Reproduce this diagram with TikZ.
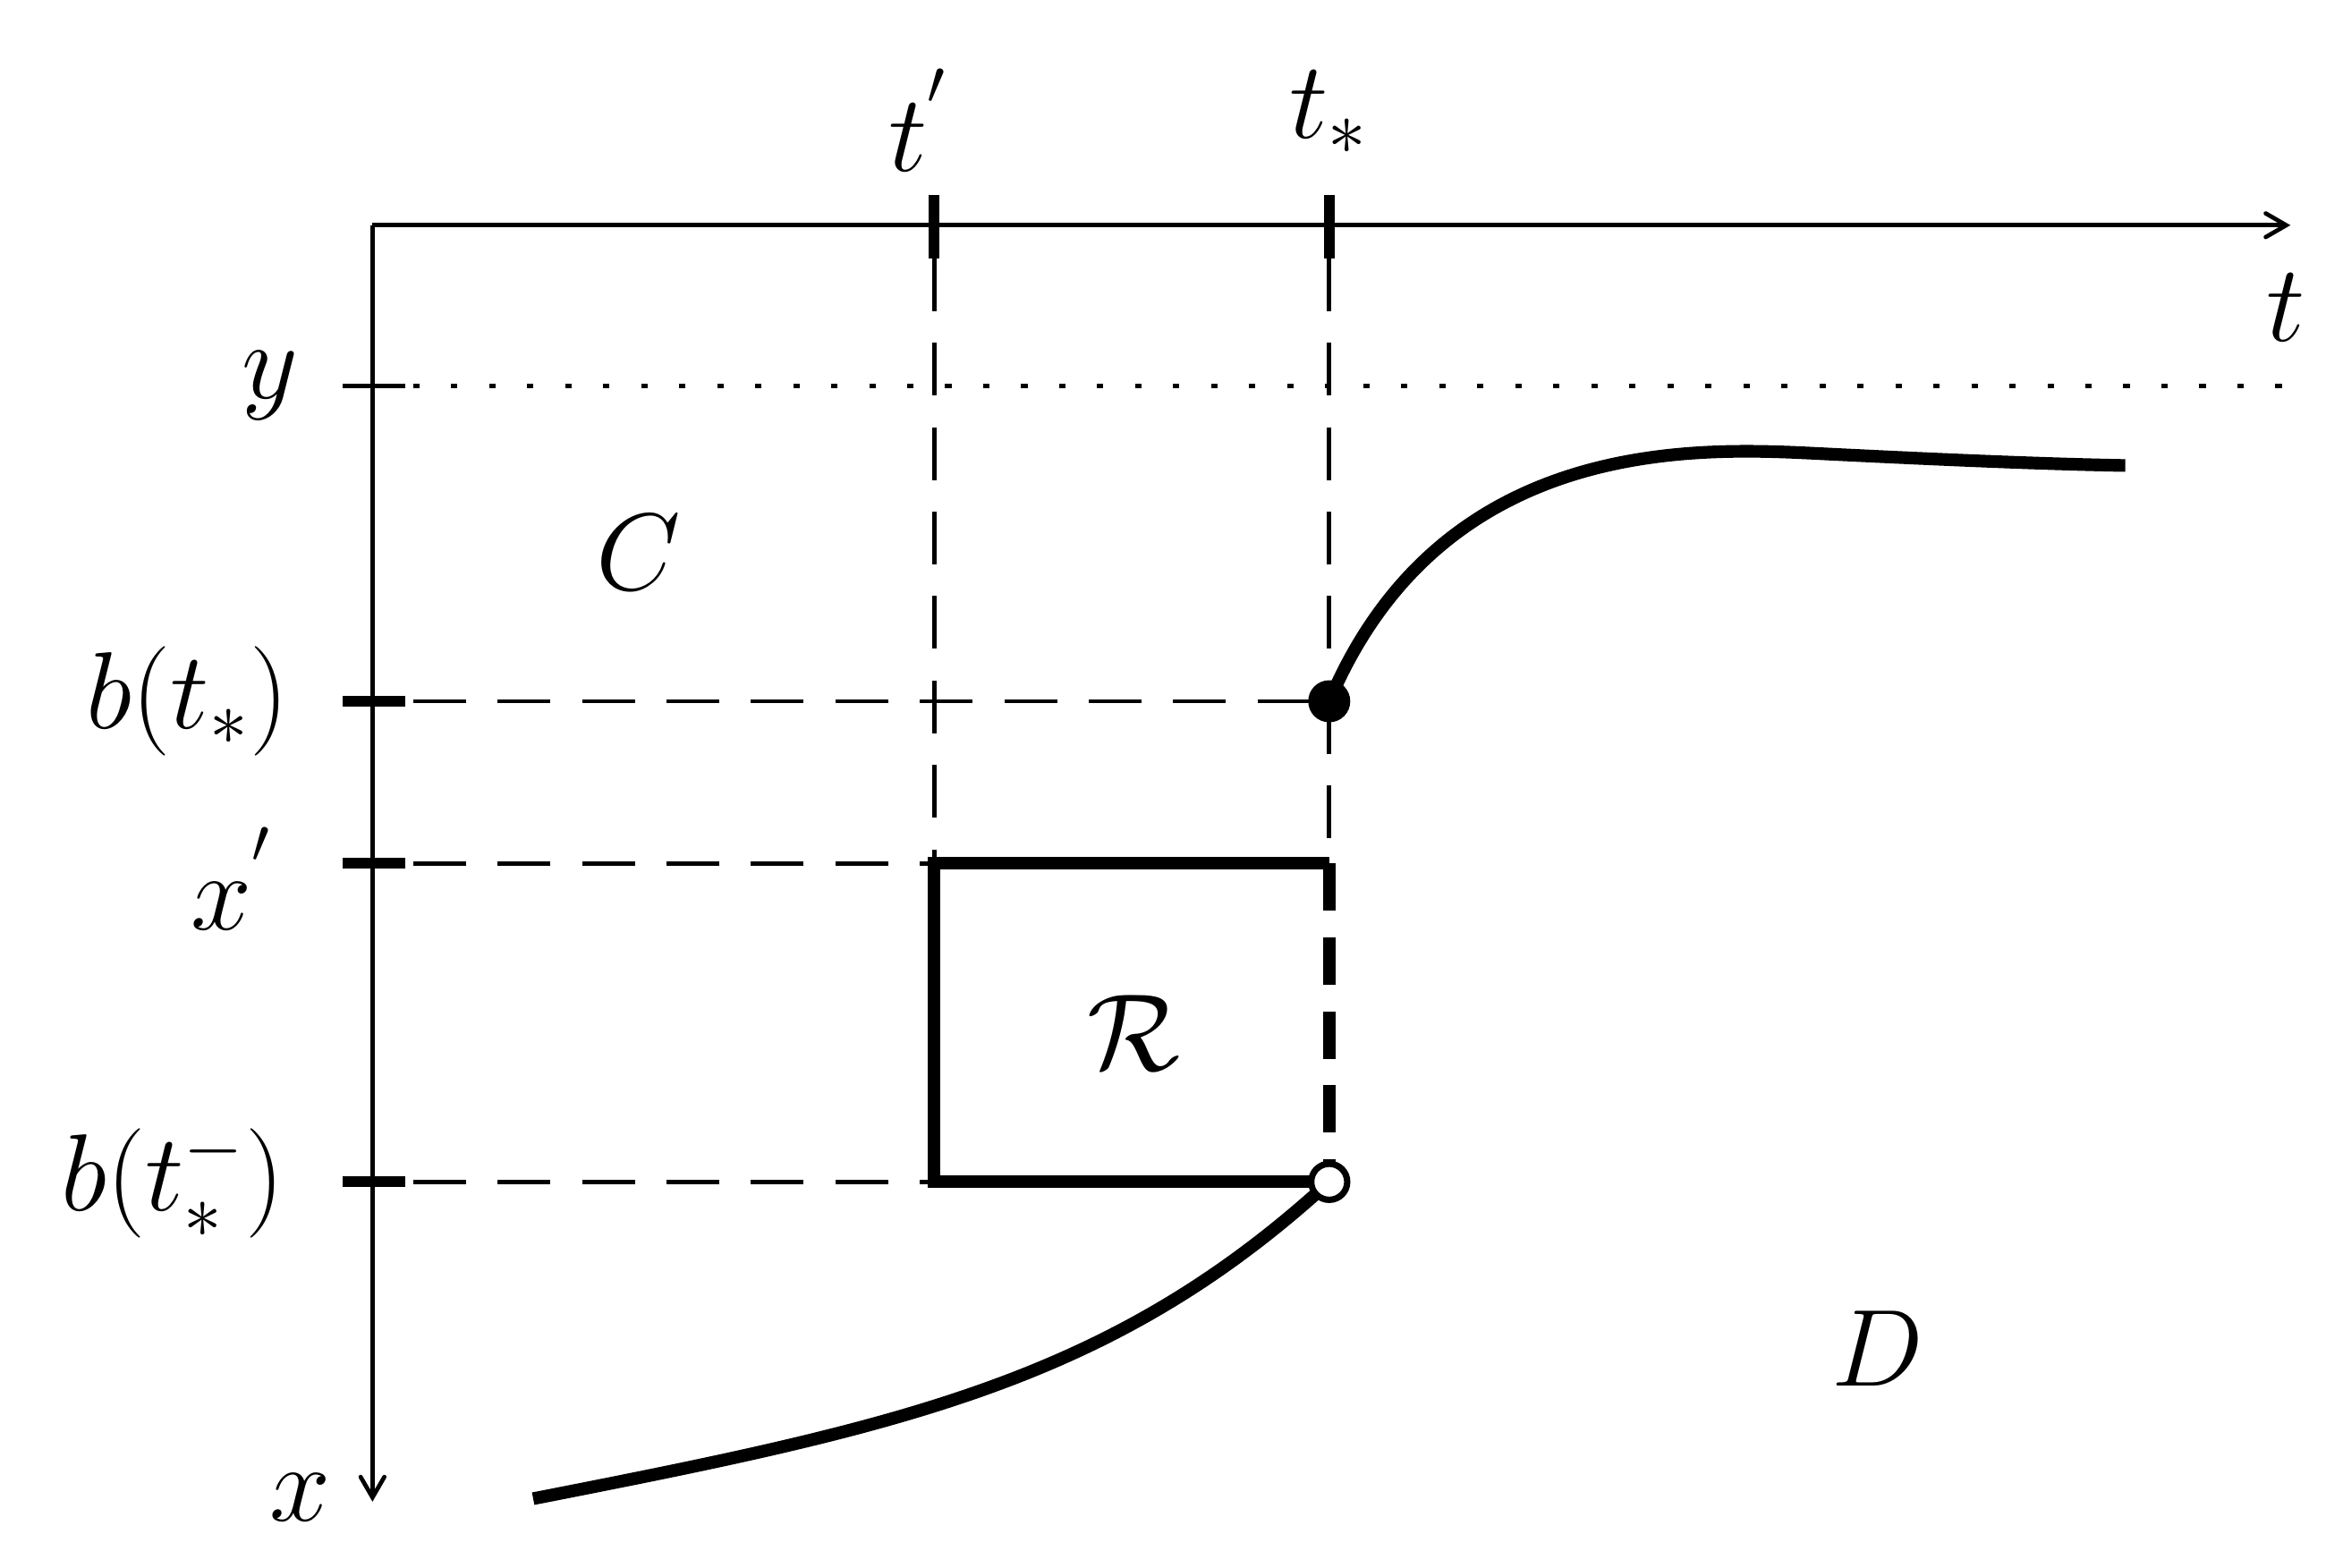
\documentclass[tikz,border=0pt]{standalone}
\usepackage{amsmath}
\usetikzlibrary{arrows}

\begin{document}
\begin{tikzpicture}[x=1cm,y=-1cm,font=\huge]
\tikzstyle{every node}=[inner sep=0pt]
\tikzstyle{axis}=[line width=0.8pt,->,>=angle 60]
\tikzstyle{guide}=[line width=0.8pt,dash pattern=on 10pt off 6pt]
\tikzstyle{tick}=[line width=2pt]
\tikzstyle{heavy}=[line width=2.4pt]
\useasboundingbox (0,0) rectangle (15.6,10.436);

\coordinate (O) at (2.48,1.5);
\coordinate (T) at (15.25,1.5);
\coordinate (X) at (2.48,10.0);
\coordinate (tp) at (6.22,1.5);
\coordinate (ts) at (8.85,1.5);
\coordinate (bs) at (8.85,4.67);
\coordinate (Rtl) at (6.22,5.75);
\coordinate (Rtr) at (8.85,5.75);
\coordinate (Rbl) at (6.22,7.87);
\coordinate (Rbr) at (8.85,7.87);

% axes
\draw[axis] (O) -- (T);
\draw[axis] (O) -- (X);
\node (tlab) at (15.22,2.05) {$t$};
\node (xlab) at (2.0,9.97) {$x$};

% ticks on the time axis
\draw[tick] (6.22,1.3) -- (6.22,1.72);
\draw[tick] (8.85,1.3) -- (8.85,1.72);
\node (tplab) at (6.12,0.8) {$t^{'}$};
\node (tslab) at (8.85,0.75) {$t_*$};

% ticks on the space axis
\draw[line width=0.8pt] (2.28,2.57) -- (2.7,2.57);
\draw[tick] (2.28,4.67) -- (2.7,4.67);
\draw[tick] (2.28,5.75) -- (2.7,5.75);
\draw[tick] (2.28,7.87) -- (2.7,7.87);
\node (ylab) at (1.8,2.57) {$y$};
\node (bslab) at (1.25,4.67) {$b(t_*)$};
\node (xplab) at (1.55,5.85) {$x^{'}$};
\node (bmlab) at (1.15,7.87) {$b(t_*^-)$};

% guides
\draw[line width=0.8pt,dotted,dash pattern=on 1.2pt off 6pt] (2.75,2.57) -- (15.25,2.57);
\draw[guide] (6.22,1.72) -- (Rtl);
\draw[guide] (8.85,1.72) -- (bs);
\draw[guide] (bs) -- (Rtr);
\draw[guide] (2.75,4.67) -- (bs);
\draw[guide] (2.75,5.75) -- (Rtl);
\draw[guide] (2.75,7.87) -- (Rbl);

% the rectangle
\draw[heavy] (Rtr) -- (Rtl) -- (Rbl) -- (Rbr);
\draw[heavy,dash pattern=on 9pt off 5pt] (Rtr) -- (Rbr);

% boundary
\draw[heavy] (bs) .. controls (9.6,2.9) and (11.3,2.98) .. (12.1,3.02)
  .. controls (12.9,3.06) and (13.6,3.09) .. (14.15,3.1);
\draw[heavy] (3.55,9.98) .. controls (6.0,9.5) and (7.4,9.2) .. (Rbr);
\fill (bs) circle (0.14);
\draw[line width=1.2pt,fill=white] (Rbr) circle (0.12);

% regions
\node (C) at (4.25,3.68) {$C$};
\node (R) at (7.55,6.88) {$\mathcal{R}$};
\node (D) at (12.5,8.98) {$D$};
\end{tikzpicture}
\end{document}
